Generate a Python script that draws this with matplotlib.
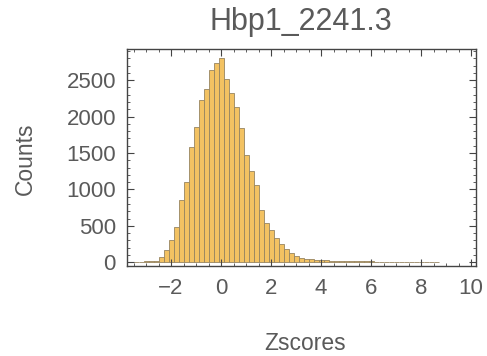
import matplotlib
matplotlib.use("Agg")
import matplotlib.pyplot as plt
from matplotlib.ticker import MultipleLocator

# ---- data ----
bin_width = 0.2
bin_centers = [round(-3.6 + 0.2 * i, 2) for i in range(62)]  # -3.6 ... 8.6
counts = [
    5, 8, 10, 12, 15, 20,            # -3.6 .. -2.6
    70, 165, 300, 485, 850, 1100,    # -2.4 .. -1.4
    1585, 1860, 2225, 2385, 2640, 2730,  # -1.2 .. -0.2
    2800,                            # 0.0
    2520, 2320, 2130, 1850, 1480, 1250, 1060, 720, 540, 440,  # 0.2 .. 2.0
    330, 250, 190, 130, 85, 60, 45, 40, 35, 30,               # 2.2 .. 4.0
    28, 25, 22, 20, 18, 16, 15, 14, 13, 12,                   # 4.2 .. 6.0
    11, 10, 10, 9, 8, 0, 0, 5, 4, 0,                          # 6.2 .. 8.0
    4, 3, 3,                                                   # 8.2 .. 8.6
]
bin_centers = bin_centers[:len(counts)]
title = "Hbp1_2241.3"
xlabel = "Zscores"
ylabel = "Counts"
xticks = [-2, 0, 2, 4, 6, 8, 10]
yticks = [0, 500, 1000, 1500, 2000, 2500]

plt.rcParams['font.family'] = ['Liberation Sans', 'DejaVu Sans']
W, H = 487, 356
fig = plt.figure(figsize=(W / 100, H / 100), dpi=100)
ax = fig.add_axes([127 / W, 1 - 266 / H, (476 - 127) / W, (266 - 49) / H])

ax.bar(bin_centers, counts, width=bin_width, color='#F3C262',
       edgecolor='#968461', linewidth=0.6, align='center')

ax.set_xlim(-3.76, 10.2)
ax.set_ylim(-50, 2928)
ax.set_xticks(xticks)
ax.set_yticks(yticks)
ax.xaxis.set_minor_locator(MultipleLocator(0.5))
ax.yaxis.set_minor_locator(MultipleLocator(100))

txt = '#5a5a5a'
ax.tick_params(which='both', direction='in', top=True, right=True,
               colors='#444444', labelcolor=txt, labelsize=16)
ax.tick_params(which='major', length=5, width=0.8)
ax.tick_params(which='minor', length=2.5, width=0.6)
ax.tick_params(axis='x', which='major', pad=9)
ax.tick_params(axis='y', which='major', pad=8)
for s in ax.spines.values():
    s.set_color('#444444')
    s.set_linewidth(1.0)

fig.text(301 / W, 1 - 22 / H, title, fontsize=22, color=txt,
         ha='center', va='center')
fig.text(305 / W, 1 - 343 / H, xlabel, fontsize=16.5, color=txt,
         ha='center', va='center')
fig.text(25 / W, 1 - 159 / H, ylabel, fontsize=16.5, color=txt,
         ha='center', va='center', rotation=90)

fig.savefig("out.png", dpi=100)
